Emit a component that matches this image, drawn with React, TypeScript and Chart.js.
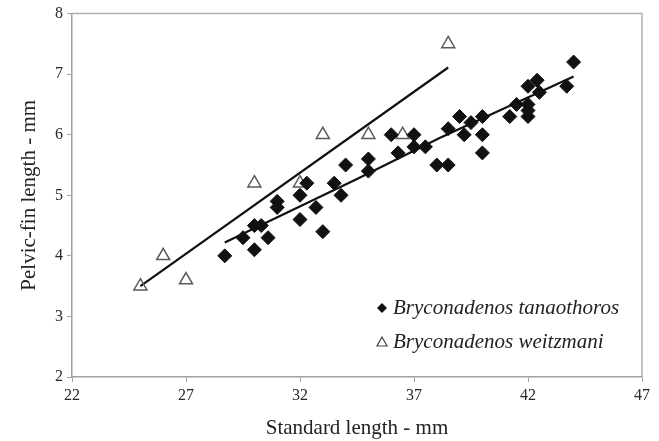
import { useEffect, useRef } from 'react';
import { Chart, registerables } from 'chart.js';

Chart.register(...registerables);

const xAxisTitle = 'Standard length - mm';
const yAxisTitle = 'Pelvic-fin length - mm';
const seriesNames = ['Bryconadenos tanaothoros', 'Bryconadenos weitzmani'];

const tanaothorosX = [28.7, 29.5, 30, 30, 30.3, 30.6, 31, 31, 32, 32, 32.3, 32.7, 33, 33.5, 33.8, 34, 35, 35, 36, 36.3, 37, 37, 37.5, 38, 38.5, 38.5, 39, 39.2, 39.5, 40, 40, 40, 41.2, 41.5, 42, 42, 42, 42, 42.4, 42.5, 43.7, 44];
const tanaothorosY = [4.0, 4.3, 4.1, 4.5, 4.5, 4.3, 4.9, 4.8, 5.0, 4.6, 5.2, 4.8, 4.4, 5.2, 5.0, 5.5, 5.6, 5.4, 6.0, 5.7, 6.0, 5.8, 5.8, 5.5, 5.5, 6.1, 6.3, 6.0, 6.2, 6.3, 6.0, 5.7, 6.3, 6.5, 6.5, 6.3, 6.4, 6.8, 6.9, 6.7, 6.8, 7.2];

const weitzmaniX = [25, 26, 27, 30, 32, 33, 35, 36.5, 38.5];
const weitzmaniY = [3.5, 4.0, 3.6, 5.2, 5.2, 6.0, 6.0, 6.0, 7.5];

const tanaothorosTrendX = [28.7, 34.5, 38.1, 44.0];
const tanaothorosTrendY = [4.22, 5.27, 5.94, 6.96];
const weitzmaniTrendX = [25, 38.5];
const weitzmaniTrendY = [3.5, 7.11];

const toPoints = (xs: number[], ys: number[]) => xs.map((x, i) => ({ x, y: ys[i] }));

const SERIF = "'Liberation Serif', 'Times New Roman', serif";

export default function App() {
  const ref = useRef<HTMLCanvasElement>(null);

  useEffect(() => {
    if (!ref.current) return;

    const framePlugin = {
      id: 'frame',
      beforeDatasetsDraw(chart: any) {
        const { ctx, chartArea } = chart;
        const { left, top, right, bottom } = chartArea;
        ctx.save();
        ctx.strokeStyle = '#b0b0b0';
        ctx.lineWidth = 1.5;
        ctx.beginPath();
        ctx.moveTo(left, top);
        ctx.lineTo(right, top);
        ctx.lineTo(right, bottom);
        ctx.stroke();
        ctx.restore();
      },
    };

    const legendPlugin = {
      id: 'customLegend',
      afterDraw(chart: any) {
        const { ctx, chartArea } = chart;
        const mx = chartArea.right - 260;
        const tx = mx + 11;
        const y1 = chartArea.bottom - 69;
        const y2 = chartArea.bottom - 35;
        ctx.save();
        ctx.fillStyle = '#111';
        ctx.beginPath();
        ctx.moveTo(mx, y1 - 5);
        ctx.lineTo(mx + 5, y1);
        ctx.lineTo(mx, y1 + 5);
        ctx.lineTo(mx - 5, y1);
        ctx.closePath();
        ctx.fill();
        ctx.strokeStyle = '#444';
        ctx.lineWidth = 1.2;
        ctx.beginPath();
        ctx.moveTo(mx, y2 - 5);
        ctx.lineTo(mx + 5, y2 + 4);
        ctx.lineTo(mx - 5, y2 + 4);
        ctx.closePath();
        ctx.stroke();
        ctx.fillStyle = '#222';
        ctx.font = `italic 21px ${SERIF}`;
        ctx.textBaseline = 'middle';
        ctx.textAlign = 'left';
        ctx.fillText(seriesNames[0], tx, y1);
        ctx.fillText(seriesNames[1], tx, y2);
        ctx.restore();
      },
    };

    const chart = new Chart(ref.current, {
      type: 'scatter',
      data: {
        datasets: [
          {
            label: seriesNames[0],
            data: toPoints(tanaothorosX, tanaothorosY),
            pointStyle: 'rectRot',
            pointRadius: 7,
            backgroundColor: '#111',
            borderColor: '#111',
            borderWidth: 1,
            order: 1,
          },
          {
            label: seriesNames[1],
            data: toPoints(weitzmaniX, weitzmaniY),
            pointStyle: 'triangle',
            pointRadius: 7.5,
            backgroundColor: 'rgba(255,255,255,0)',
            borderColor: '#5a5a5a',
            borderWidth: 1.5,
            order: 2,
          },
          {
            label: 'trend tanaothoros',
            data: toPoints(tanaothorosTrendX, tanaothorosTrendY),
            showLine: true,
            pointRadius: 0,
            borderColor: '#111',
            borderWidth: 2.2,
            fill: false,
            order: 3,
          },
          {
            label: 'trend weitzmani',
            data: toPoints(weitzmaniTrendX, weitzmaniTrendY),
            showLine: true,
            pointRadius: 0,
            borderColor: '#111',
            borderWidth: 2.2,
            fill: false,
            order: 3,
          },
        ],
      },
      options: {
        responsive: false,
        animation: false,
        layout: { padding: { top: 12, right: 17, bottom: 0, left: 0 } },
        plugins: {
          legend: { display: false },
          tooltip: { enabled: false },
        },
        scales: {
          x: {
            type: 'linear',
            min: 22,
            max: 47,
            ticks: {
              stepSize: 5,
              color: '#2a2a2a',
              padding: 4,
              font: { family: SERIF, size: 16 },
            },
            grid: { drawOnChartArea: false, drawTicks: true, tickLength: 5, color: '#a0a0a0' },
            border: { color: '#a0a0a0', width: 1.5 },
            title: {
              display: true,
              text: xAxisTitle,
              color: '#222',
              font: { family: SERIF, size: 21 },
              padding: { top: 0, bottom: 0 },
            },
            afterFit(scale: any) {
              scale.height = 64;
            },
          },
          y: {
            type: 'linear',
            min: 2,
            max: 8,
            ticks: {
              stepSize: 1,
              color: '#2a2a2a',
              padding: 4,
              font: { family: SERIF, size: 16 },
            },
            grid: { drawOnChartArea: false, drawTicks: true, tickLength: 5, color: '#a0a0a0' },
            border: { color: '#a0a0a0', width: 1.5 },
            title: {
              display: true,
              text: yAxisTitle,
              color: '#222',
              font: { family: SERIF, size: 21 },
              padding: { top: 17, bottom: 0 },
            },
            afterFit(scale: any) {
              scale.width = 72;
            },
          },
        },
      },
      plugins: [framePlugin, legendPlugin],
    } as any);

    return () => chart.destroy();
  }, []);

  return (
    <div style={{ position: 'fixed', left: 0, top: 0, width: 659, height: 441, background: '#fff' }}>
      <canvas ref={ref} width={659} height={441} style={{ width: 659, height: 441, display: 'block' }} />
    </div>
  );
}
